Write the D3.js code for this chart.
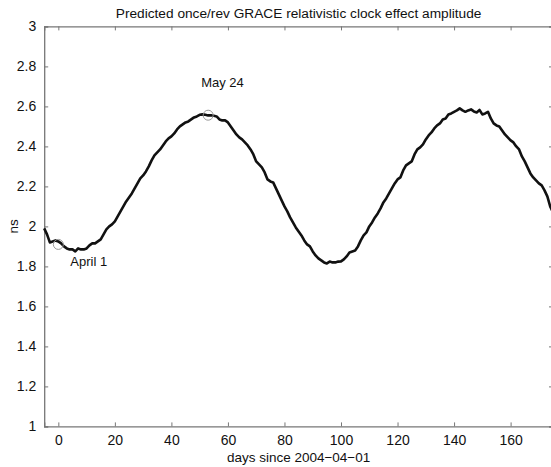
<!DOCTYPE html>
<html>
<head>
<meta charset="utf-8">
<script src="https://cdn.jsdelivr.net/npm/d3@7"></script>
<style>
  body { margin: 0; background: #fff; }
  text { font-family: "Liberation Sans", Arial, sans-serif; fill: #111; }
</style>
</head>
<body>
<svg id="chart"></svg>
<script>
// ---- DATA ---- //
const days = [];
for (let d = -5; d <= 175; d++) days.push(d);

const amplitude = [
  1.99, 1.96, 1.92, 1.925, 1.93, 1.925, 1.915, 1.90, 1.89, 1.885,
  1.885, 1.875, 1.89, 1.885, 1.885, 1.89, 1.905, 1.915, 1.915, 1.925,
  1.935, 1.96, 1.985, 2.0, 2.01, 2.025, 2.05, 2.075, 2.10, 2.125,
  2.145, 2.165, 2.19, 2.215, 2.24, 2.255, 2.275, 2.30, 2.33, 2.355,
  2.37, 2.385, 2.405, 2.425, 2.44, 2.45, 2.465, 2.485, 2.50, 2.51,
  2.52, 2.525, 2.535, 2.545, 2.55, 2.558, 2.56, 2.558, 2.555, 2.556,
  2.553, 2.55, 2.535, 2.53, 2.53, 2.52, 2.50, 2.48, 2.46, 2.445,
  2.435, 2.42, 2.405, 2.385, 2.36, 2.325, 2.31, 2.295, 2.27, 2.235,
  2.225, 2.22, 2.19, 2.16, 2.13, 2.10, 2.075, 2.045, 2.02, 1.995,
  1.975, 1.955, 1.93, 1.91, 1.90, 1.875, 1.855, 1.84, 1.83, 1.82,
  1.815, 1.824, 1.82, 1.82, 1.824, 1.825, 1.835, 1.85, 1.87, 1.875,
  1.88, 1.90, 1.93, 1.955, 1.97, 2.0, 2.02, 2.045, 2.065, 2.09,
  2.12, 2.14, 2.165, 2.19, 2.215, 2.235, 2.245, 2.28, 2.305, 2.315,
  2.325, 2.36, 2.385, 2.395, 2.41, 2.435, 2.455, 2.47, 2.49, 2.505,
  2.515, 2.535, 2.54, 2.56, 2.565, 2.573, 2.58, 2.59, 2.58, 2.573,
  2.58, 2.585, 2.575, 2.57, 2.582, 2.56, 2.565, 2.573, 2.54, 2.515,
  2.505, 2.50, 2.48, 2.46, 2.445, 2.43, 2.42, 2.40, 2.385, 2.35,
  2.325, 2.295, 2.265, 2.245, 2.23, 2.215, 2.205, 2.18, 2.15, 2.10,
  2.07
];

const xTicks = [0, 20, 40, 60, 80, 100, 120, 140, 160];
const yTicks = [1, 1.2, 1.4, 1.6, 1.8, 2, 2.2, 2.4, 2.6, 2.8, 3];

// annotated dates: day, value, label
const markers = [
  {day: 0, value: 1.91, label: "April 1", dx: 12, dy: 22},
  {day: 53, value: 2.556, label: "May 24", dx: -7, dy: -28}
];

// ---- THE CHART ---- //
const W = 551, H = 467;
const margin = {top: 26.4, right: -2, bottom: 40.6, left: 44.2};

const svg = d3.select("#chart")
  .attr("width", W)
  .attr("height", H);

const xScale = d3.scaleLinear()
  .domain([-5, 175])
  .range([margin.left, W - margin.right]);
const yScale = d3.scaleLinear()
  .domain([1, 3])
  .range([H - margin.bottom, margin.top]);

const axisColor = "#777";
const tickLen = 4;

// axes (ticks pointing inward)
const xAxis = svg.append("g")
  .attr("transform", "translate(0," + yScale(1) + ")")
  .call(d3.axisBottom(xScale).tickValues(xTicks).tickSize(-tickLen).tickPadding(9));
const xAxisTop = svg.append("g")
  .attr("transform", "translate(0," + yScale(3) + ")")
  .call(d3.axisTop(xScale).tickValues(xTicks).tickSize(-tickLen).tickFormat(""));
const yAxis = svg.append("g")
  .attr("transform", "translate(" + xScale(-5) + ",0)")
  .call(d3.axisLeft(yScale).tickValues(yTicks).tickSize(-tickLen).tickPadding(8)
    .tickFormat(d3.format("~g")));
const yAxisRight = svg.append("g")
  .attr("transform", "translate(" + xScale(175) + ",0)")
  .call(d3.axisRight(yScale).tickValues(yTicks).tickSize(-tickLen).tickFormat(""));

[xAxis, xAxisTop, yAxis, yAxisRight].forEach(g => {
  g.select(".domain").attr("stroke", axisColor).attr("stroke-width", 1.3);
  g.selectAll(".tick line").attr("stroke", axisColor).attr("stroke-width", 1);
  g.selectAll(".tick text")
    .style("font-family", "'Liberation Sans', Arial, sans-serif")
    .style("font-size", "14px")
    .attr("fill", "#111");
});

// the series
const line = d3.line()
  .x((d, i) => xScale(days[i]))
  .y(d => yScale(d));

svg.append("path")
  .datum(amplitude)
  .attr("d", line)
  .attr("fill", "none")
  .attr("stroke", "#111")
  .attr("stroke-width", 2.6)
  .attr("stroke-linejoin", "round");

// markers
svg.selectAll(".marker")
  .data(markers)
  .enter().append("circle")
    .attr("class", "marker")
    .attr("cx", d => xScale(d.day))
    .attr("cy", d => yScale(d.value))
    .attr("r", 5)
    .attr("fill", "none")
    .attr("stroke", "#999")
    .attr("stroke-width", 1);

svg.selectAll(".marker-label")
  .data(markers)
  .enter().append("text")
    .attr("class", "marker-label")
    .attr("x", d => xScale(d.day) + d.dx)
    .attr("y", d => yScale(d.value) + d.dy)
    .style("font-size", "13px")
    .text(d => d.label);

// titles
svg.append("text")
  .attr("x", (xScale(-5) + xScale(175)) / 2)
  .attr("y", 18)
  .attr("text-anchor", "middle")
  .style("font-size", "13.7px")
  .text("Predicted once/rev GRACE relativistic clock effect amplitude");

svg.append("text")
  .attr("x", (xScale(-5) + xScale(175)) / 2)
  .attr("y", 462)
  .attr("text-anchor", "middle")
  .style("font-size", "13.5px")
  .text("days since 2004\u221204\u221201");

svg.append("text")
  .attr("transform", "translate(18," + yScale(2) + ") rotate(-90)")
  .attr("text-anchor", "middle")
  .style("font-size", "13.5px")
  .text("ns");
</script>
</body>
</html>
